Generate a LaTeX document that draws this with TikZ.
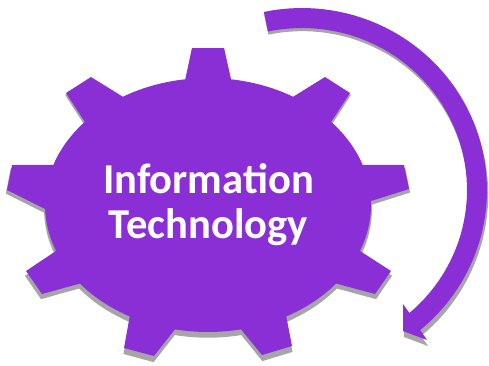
\documentclass[tikz,border=0pt]{standalone}
\usepackage{fontspec}
\setmainfont{Carlito}
\definecolor{gearpurple}{HTML}{8A2ED5}
\definecolor{softshadow}{HTML}{A6A6A6}
\tikzset{
  gearshadow/.style={fill=softshadow,draw=none},
  gearfill/.style={fill=gearpurple,draw=none},
  gearlabel/.style={text=white,font=\fontsize{42.6}{45}\selectfont\bfseries,align=center,inner sep=0pt}
}
\def\gearoutline{
  (192,48) -- (224,48) -- (231.0,79.3)
  -- plot[domain=81.9:58.5,samples=12] ({208+163*cos(\x)},{205-127*sin(\x)})
  -- (325,77) -- (350,93)
  -- plot[domain=40.9:18.4,samples=12] ({208+163*cos(\x)},{205-127*sin(\x)})
  -- (404,165) -- (409,189)
  -- plot[domain=1.8:-21.2,samples=12] ({208+163*cos(\x)},{205-127*sin(\x)})
  -- (391,271) -- (375,294)
  -- plot[domain=-38.2:-61.3,samples=12] ({208+163*cos(\x)},{205-127*sin(\x)})
  -- (292,346) -- (262,355)
  -- plot[domain=-78.3:-101.7,samples=12] ({208+163*cos(\x)},{205-127*sin(\x)})
  -- (154,356) -- (124,348)
  -- plot[domain=-118.7:-141.8,samples=12] ({208+163*cos(\x)},{205-127*sin(\x)})
  -- (42,294) -- (26,271)
  -- plot[domain=-158.8:-178.2,samples=12] ({208+163*cos(\x)},{205-127*sin(\x)})
  -- (7,190) -- (12,165)
  -- plot[domain=161.6:139.1,samples=12] ({208+163*cos(\x)},{205-127*sin(\x)})
  -- (66,93) -- (91,77)
  -- plot[domain=121.5:98,samples=12] ({208+163*cos(\x)},{205-127*sin(\x)})
  -- cycle
}
\def\arrowoutline{
  plot[domain=101.9:-50.3,samples=60] ({302+185*cos(\x)},{190-182*sin(\x)})
  -- (427,340) -- (403,331) -- (403,304)
  -- plot[domain=-49.4:101.9,samples=60] ({302+165*cos(\x)},{190-162*sin(\x)})
  -- cycle
}
\begin{document}
\begin{tikzpicture}[x=1pt,y=-1pt]
  \useasboundingbox (0,0) rectangle (489,365);
  \begin{scope}[cm={1.006,0,0,1.0156,(-1.25,0.55)}]
    \fill[gearshadow] \gearoutline;
  \end{scope}
  \begin{scope}[cm={1.004,0,0,1.0093,(-0.7,2.88)}]
    \fill[gearshadow] \arrowoutline;
  \end{scope}
  \fill[gearfill] \gearoutline;
  \fill[gearfill] \arrowoutline;
  \node[gearlabel] (gearname) at (208.5,205) {Information\\Technology};
\end{tikzpicture}
\end{document}
